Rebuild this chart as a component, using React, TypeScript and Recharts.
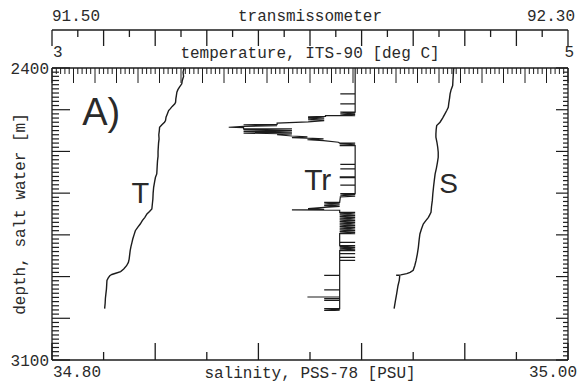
import React from 'react';
import { ScatterChart, Scatter, XAxis, YAxis, ReferenceDot, Label } from 'recharts';

// axis ranges
const depthDomain = [2400, 3100];
const tempDomain = [3, 5];
const transDomain = [91.5, 92.3];
const salDomain = [34.8, 35.0];

// end labels printed on each axis
const depthLabels = ['2400', '3100'];
const tempLabels = ['3', '5'];
const transLabels = ['91.50', '92.30'];
const salLabels = ['34.80', '35.00'];

// [depth m, temperature degC]
const tempProfile: [number, number][] = [
  [2400, 3.512], [2410, 3.508], [2420, 3.51], [2430, 3.505], [2438, 3.503], [2446, 3.494],
  [2452, 3.488], [2458, 3.484], [2466, 3.482], [2474, 3.48], [2482, 3.479], [2486, 3.476],
  [2492, 3.466], [2498, 3.458], [2502, 3.452], [2510, 3.447], [2518, 3.442], [2526, 3.44],
  [2530, 3.436], [2536, 3.426], [2542, 3.417], [2550, 3.416], [2560, 3.414], [2570, 3.415],
  [2580, 3.413], [2590, 3.412], [2600, 3.411], [2612, 3.411], [2622, 3.409], [2632, 3.408],
  [2644, 3.407], [2654, 3.406], [2662, 3.401], [2672, 3.398], [2686, 3.394], [2700, 3.392],
  [2714, 3.391], [2726, 3.389], [2738, 3.387], [2744, 3.378], [2750, 3.368], [2758, 3.36],
  [2766, 3.35], [2774, 3.342], [2782, 3.332], [2790, 3.323], [2800, 3.318], [2810, 3.313],
  [2818, 3.31], [2828, 3.306], [2838, 3.303], [2848, 3.301], [2858, 3.299], [2866, 3.296],
  [2874, 3.289], [2882, 3.278], [2888, 3.266], [2892, 3.247], [2895, 3.232], [2898, 3.224],
  [2903, 3.218], [2909, 3.213], [2920, 3.212], [2930, 3.211], [2941, 3.209], [2952, 3.207],
  [2964, 3.206], [2977, 3.204],
];

// [depth m, salinity PSU]
const salProfile: [number, number][] = [
  [2400, 34.9557], [2410, 34.9556], [2420, 34.9555], [2430, 34.9554], [2442, 34.9553],
  [2452, 34.9547], [2462, 34.9543], [2472, 34.9541], [2484, 34.9538], [2494, 34.9536],
  [2502, 34.953], [2510, 34.9523], [2520, 34.9514], [2530, 34.9504], [2538, 34.9491],
  [2548, 34.9489], [2558, 34.9488], [2566, 34.9488], [2578, 34.9492], [2590, 34.9495],
  [2602, 34.9497], [2614, 34.9497], [2626, 34.9494], [2640, 34.949], [2654, 34.9485],
  [2668, 34.9482], [2684, 34.9479], [2702, 34.9476], [2718, 34.9474], [2732, 34.9471],
  [2746, 34.9469], [2752, 34.9464], [2758, 34.9459], [2766, 34.9449], [2774, 34.9439],
  [2786, 34.9432], [2798, 34.9426], [2812, 34.9423], [2830, 34.942], [2846, 34.9416],
  [2862, 34.9411], [2874, 34.9406], [2885, 34.94], [2890, 34.9388], [2893, 34.9375],
  [2896, 34.9352], [2897, 34.9334], [2897, 34.9348], [2903, 34.9347], [2909, 34.9346],
  [2922, 34.9341], [2941, 34.9336], [2958, 34.9331], [2977, 34.9326],
];

// [depth m, transmissometer %]
const transProfile: [number, number][] = [
  [2400, 91.97], [2462, 91.97], [2462, 91.947], [2462, 91.97],
  [2486, 91.97], [2486, 91.947], [2486, 91.97],
  [2506, 91.97], [2506, 91.947], [2508, 91.97], [2510, 91.947], [2512, 91.97], [2514, 91.947], [2514, 91.97],
  [2514, 91.924], [2516, 91.924], [2517, 91.897], [2518, 91.922], [2520, 91.897], [2522, 91.922],
  [2524, 91.897], [2526, 91.922], [2529, 91.897], [2532, 91.849], [2535, 91.849], [2536, 91.797],
  [2538, 91.849], [2540, 91.797], [2542, 91.774], [2543, 91.797], [2546, 91.797], [2546, 91.872],
  [2548, 91.797], [2550, 91.872], [2552, 91.797], [2554, 91.872], [2556, 91.797], [2558, 91.872],
  [2560, 91.849], [2563, 91.872], [2565, 91.896], [2567, 91.872], [2568, 91.896], [2570, 91.921],
  [2572, 91.896], [2574, 91.921], [2578, 91.944], [2580, 91.946], [2580, 91.97], [2582, 91.946],
  [2584, 91.97], [2586, 91.946], [2586, 91.97],
  [2631, 91.97], [2631, 91.947], [2631, 91.97],
  [2642, 91.97], [2642, 91.947], [2642, 91.97],
  [2661, 91.97], [2661, 91.947], [2663, 91.947], [2663, 91.97],
  [2681, 91.97], [2681, 91.947], [2681, 91.97],
  [2701, 91.97], [2701, 91.947], [2703, 91.97], [2705, 91.947], [2707, 91.97], [2709, 91.947],
  [2710, 91.947],
  [2722, 91.946], [2722, 91.922], [2724, 91.946], [2726, 91.922], [2728, 91.946], [2730, 91.922],
  [2732, 91.946], [2734, 91.922], [2737, 91.897], [2739, 91.922], [2740, 91.872], [2741, 91.946],
  [2746, 91.946], [2746, 91.97], [2748, 91.946], [2750, 91.97], [2752, 91.946], [2754, 91.97],
  [2756, 91.946], [2758, 91.97], [2760, 91.946], [2762, 91.97], [2764, 91.946], [2766, 91.97],
  [2768, 91.946], [2770, 91.97], [2772, 91.946], [2774, 91.97], [2776, 91.946], [2778, 91.97],
  [2780, 91.946], [2782, 91.97], [2784, 91.946], [2786, 91.97], [2788, 91.946], [2790, 91.97],
  [2792, 91.946], [2794, 91.97], [2796, 91.946], [2797, 91.97], [2797, 91.946],
  [2818, 91.946], [2818, 91.97], [2818, 91.946],
  [2826, 91.946], [2826, 91.97], [2828, 91.946], [2830, 91.97], [2832, 91.946], [2834, 91.97],
  [2836, 91.946], [2838, 91.97], [2838, 91.946],
  [2845, 91.946], [2845, 91.97], [2845, 91.946],
  [2854, 91.946], [2854, 91.97], [2854, 91.946],
  [2861, 91.946], [2861, 91.97], [2861, 91.946],
  [2897, 91.946], [2897, 91.922], [2897, 91.946],
  [2932, 91.946], [2932, 91.922], [2932, 91.946],
  [2949, 91.946], [2949, 91.896], [2949, 91.946],
  [2953, 91.946], [2953, 91.922], [2953, 91.946],
  [2957, 91.946], [2957, 91.922], [2957, 91.946],
  [2977, 91.946], [2977, 91.922], [2979, 91.946], [2981, 91.922], [2981, 91.946],
];

// profile letters: [text, x value, depth]
const tempNotes: [string, number, number][] = [['A)', 3.191, 2505], ['T', 3.342, 2700]];
const transNotes: [string, number, number][] = [['Tr', 91.912, 2667]];
const salNotes: [string, number, number][] = [['S', 34.9537, 2677]];

const MONO = '"Liberation Mono", "DejaVu Sans Mono", monospace';
const SANS = '"Liberation Sans", Arial, sans-serif';
const INK = '#1c1c1c';
const TEXT = '#2a2a2a';

const steps = (lo: number, hi: number, n: number) =>
  Array.from({ length: n + 1 }, (_, i) => lo + ((hi - lo) * i) / n);

const depthTicks = steps(2400, 3100, 70);
const tempTicks = steps(3, 5, 120);
const transTicks = steps(91.5, 92.3, 20);
const salTicks = steps(34.8, 35.0, 10);

const toPts = (rows: [number, number][]) => rows.map(([d, v]) => ({ d, v }));
const NoDot = () => <g />;

const txt = { fontFamily: MONO, fontSize: 16, fill: TEXT };

function DepthLeftTick(props: any) {
  const { x, y, index } = props;
  const len = index % 10 === 0 ? 18 : 7;
  const label = index === 0 ? depthLabels[0] : index === depthTicks.length - 1 ? depthLabels[1] : null;
  return (
    <g>
      <line x1={x} x2={x + len} y1={y} y2={y} stroke={INK} strokeWidth={1.2} />
      {label && (
        <text x={x - 3} y={y + 6} textAnchor="end" {...txt}>{label}</text>
      )}
    </g>
  );
}

function DepthRightTick(props: any) {
  const { x, y, index } = props;
  const len = index % 10 === 0 ? 12 : 5;
  return <line x1={x} x2={x - len} y1={y} y2={y} stroke={INK} strokeWidth={1.2} />;
}

function TempTick(props: any) {
  const { x, y, index } = props;
  const len = index % 5 === 0 ? 15 : 6;
  const label = index === 0 ? tempLabels[0] : index === tempTicks.length - 1 ? tempLabels[1] : null;
  return (
    <g>
      <line x1={x} x2={x} y1={y} y2={y + len} stroke={INK} strokeWidth={1} />
      {label && (
        <text x={index === 0 ? x + 1 : x + 6} y={y - 11} textAnchor={index === 0 ? 'start' : 'end'} {...txt}>{label}</text>
      )}
    </g>
  );
}

function TransTick(props: any) {
  const { x, y, index } = props;
  const len = index % 2 === 0 ? 16 : 7;
  const label = index === 0 ? transLabels[0] : index === transTicks.length - 1 ? transLabels[1] : null;
  return (
    <g>
      <line x1={x} x2={x} y1={y} y2={y + len} stroke={INK} strokeWidth={1.3} />
      {label && (
        <text x={index === 0 ? x : x + 7} y={y - 9} textAnchor={index === 0 ? 'start' : 'end'} {...txt}>{label}</text>
      )}
    </g>
  );
}

function SalTick(props: any) {
  const { x, y, index } = props;
  const len = index % 2 === 0 ? 17 : 8;
  const label = index === 0 ? salLabels[0] : index === salTicks.length - 1 ? salLabels[1] : null;
  return (
    <g>
      <line x1={x} x2={x} y1={y} y2={y - len} stroke={INK} strokeWidth={1.3} />
      {label && (
        <text x={index === 0 ? x + 1 : x + 9} y={y + 17} textAnchor={index === 0 ? 'start' : 'end'} {...txt}>{label}</text>
      )}
    </g>
  );
}

const note = (text: string, size: number) => (
  <Label value={text} position="center" fontFamily={SANS} fontSize={size} fill={TEXT} />
);

export default function App() {
  const lineStyle = { stroke: INK, strokeWidth: 1.4 };
  return (
    <div style={{ position: 'absolute', left: 0, top: 0, background: '#fff' }}>
      <ScatterChart width={578} height={385} margin={{ top: 0, right: 0, bottom: 0, left: 0 }}>
        <XAxis
          xAxisId="temp" orientation="top" type="number" dataKey="v" domain={tempDomain}
          ticks={tempTicks} interval={0} height={38} tickSize={0} tickMargin={0}
          tick={TempTick} axisLine={{ stroke: INK, strokeWidth: 1.3 }}
        >
          <Label value="temperature, ITS-90 [deg C]" position="center" dy={3} {...txt} />
        </XAxis>
        <XAxis
          xAxisId="tr" orientation="top" type="number" dataKey="v" domain={transDomain}
          ticks={transTicks} interval={0} height={30} tickSize={0} tickMargin={0}
          tick={TransTick} axisLine={{ stroke: INK, strokeWidth: 1.3 }}
        >
          <Label value="transmissometer" position="center" {...txt} />
        </XAxis>
        <XAxis
          xAxisId="sal" orientation="bottom" type="number" dataKey="v" domain={salDomain}
          ticks={salTicks} interval={0} height={25} tickSize={0} tickMargin={0}
          tick={SalTick} axisLine={{ stroke: INK, strokeWidth: 1.3 }}
        >
          <Label value="salinity, PSS-78 [PSU]" position="center" {...txt} />
        </XAxis>
        <YAxis
          yAxisId="dl" orientation="left" type="number" dataKey="d" domain={depthDomain} reversed
          ticks={depthTicks} interval={0} width={52} tickSize={0} tickMargin={0}
          tick={DepthLeftTick} axisLine={{ stroke: INK, strokeWidth: 1.3 }}
        >
          <Label value="depth, salt water [m]" position="center" angle={-90} dx={-7} {...txt} />
        </YAxis>
        <YAxis
          yAxisId="dr" orientation="right" type="number" dataKey="d" domain={depthDomain} reversed
          ticks={depthTicks} interval={0} width={10} tickSize={0} tickMargin={0}
          tick={DepthRightTick} axisLine={{ stroke: INK, strokeWidth: 1.3 }}
        />
        <Scatter data={toPts(tempProfile)} xAxisId="temp" yAxisId="dl" line={lineStyle} shape={NoDot} isAnimationActive={false} />
        <Scatter data={toPts(transProfile)} xAxisId="tr" yAxisId="dl" line={{ stroke: INK, strokeWidth: 1.2 }} shape={NoDot} isAnimationActive={false} />
        <Scatter data={toPts(salProfile)} xAxisId="sal" yAxisId="dr" line={lineStyle} shape={NoDot} isAnimationActive={false} />
        {tempNotes.map(([t, v, d]) => (
          <ReferenceDot key={t} x={v} y={d} r={0} xAxisId="temp" yAxisId="dl" stroke="none" fill="none">
            {note(t, t === 'A)' ? 38 : 29)}
          </ReferenceDot>
        ))}
        {transNotes.map(([t, v, d]) => (
          <ReferenceDot key={t} x={v} y={d} r={0} xAxisId="tr" yAxisId="dl" stroke="none" fill="none">
            {note(t, 30)}
          </ReferenceDot>
        ))}
        {salNotes.map(([t, v, d]) => (
          <ReferenceDot key={t} x={v} y={d} r={0} xAxisId="sal" yAxisId="dr" stroke="none" fill="none">
            {note(t, 28)}
          </ReferenceDot>
        ))}
      </ScatterChart>
    </div>
  );
}
